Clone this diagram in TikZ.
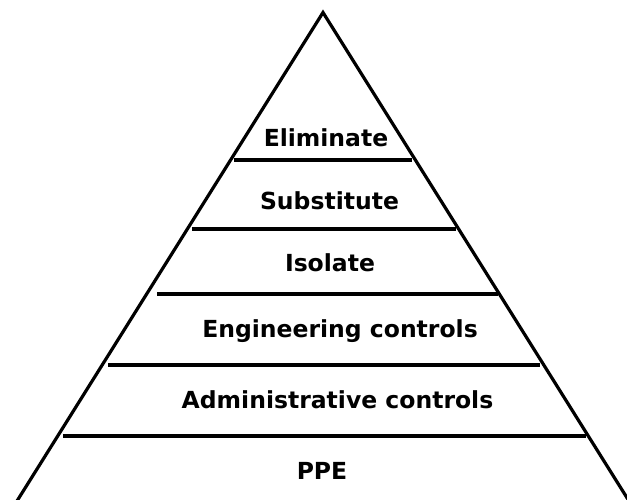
\documentclass[tikz,border=0pt]{standalone}
\usepackage{fontspec}
\setmainfont{DejaVu Sans}
\tikzset{
  tier/.style={font=\bfseries\fontsize{23.5}{28}\selectfont, inner sep=0pt, anchor=base},
  edge/.style={line width=3.2pt},
  divider/.style={line width=4pt}
}
\begin{document}
\begin{tikzpicture}[x=1pt,y=-1pt]
\useasboundingbox (0,0) rectangle (627,500);
\coordinate (apex) at (323,12.5);
\coordinate (bl) at (17,501);
\coordinate (br) at (629,501);
\draw[edge, line join=miter] (bl) -- (apex) -- (br);
\draw[divider] (234,160) -- (412,160);
\draw[divider] (192,229) -- (456,229);
\draw[divider] (157,294) -- (498,294);
\draw[divider] (108,365) -- (540,365);
\draw[divider] (63,436) -- (586,436);
\node[tier] (elim) at (326,147) {Eliminate};
\node[tier] (subs) at (329.5,209) {Substitute};
\node[tier] (isol) at (330,271) {Isolate};
\node[tier] (eng) at (340,337) {Engineering controls};
\node[tier] (adm) at (337.5,408) {Administrative controls};
\node[tier] (ppe) at (322,479) {PPE};
\end{tikzpicture}
\end{document}
